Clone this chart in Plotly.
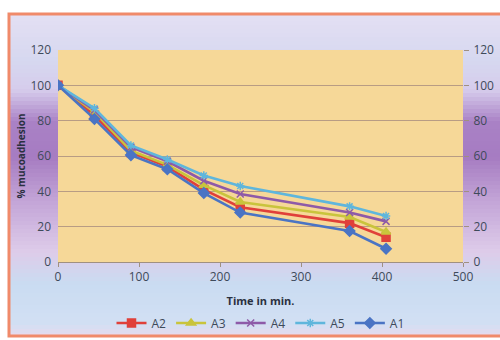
import plotly.graph_objects as go

time = [0, 45, 90, 135, 180, 225, 360, 405]
A1 = [100, 81, 60.5, 52.5, 39, 28, 17.5, 7.5]
A2 = [100, 83, 62, 54, 41, 31, 22, 14]
A3 = [100, 85, 63, 55, 43.5, 34, 25.5, 17]
A4 = [100, 86, 65, 57, 46, 38.5, 28, 23]
A5 = [100, 87, 66, 58, 49, 43, 31.5, 26]
y_ticks = [0, 20, 40, 60, 80, 100, 120]
x_ticks = [0, 100, 200, 300, 400, 500]

W, H = 500, 340
ML, MR, MT, MB = 58, 37, 50, 78
PW, PH = W - ML - MR, H - MT - MB

def xp(px):
    return (px - ML) / PW

def yp(py):
    return (H - MB - py) / PH

series = [
    ("A2", A2, "#e0403a", "square", 8),
    ("A3", A3, "#c9c43c", "triangle-up", 8),
    ("A4", A4, "#8e5aa8", "x-thin", 7),
    ("A5", A5, "#5fb6dc", "asterisk", 7),
    ("A1", A1, "#4a74c4", "diamond", 8),
]

fig = go.Figure()
for name, vals, col, sym, sz in series:
    fig.add_trace(go.Scatter(
        x=time, y=vals, name=name, mode="lines+markers",
        line=dict(color=col, width=2.6),
        marker=dict(symbol=sym, size=sz, color=col, line=dict(color=col, width=1.5)),
    ))
fig.add_trace(go.Scatter(x=[0], y=[0], yaxis="y2", showlegend=False,
                         mode="markers", marker=dict(opacity=0), hoverinfo="skip"))

stops = [(13, (228, 224, 244)), (60, (214, 216, 240)), (88, (214, 204, 236)),
         (120, (170, 130, 198)), (155, (166, 124, 194)), (200, (196, 166, 216)),
         (250, (222, 204, 234)), (282, (202, 220, 242)), (322, (210, 224, 244)),
         (337, (236, 216, 236))]

def lerp(a, b, t):
    return tuple(int(a[i] + (b[i] - a[i]) * t) for i in range(3))

shapes = []
y = 13
step = 4
while y < 337:
    for i in range(len(stops) - 1):
        if stops[i][0] <= y <= stops[i + 1][0]:
            t = (y - stops[i][0]) / (stops[i + 1][0] - stops[i][0])
            c = lerp(stops[i][1], stops[i + 1][1], t)
            break
    shapes.append(dict(type="rect", xref="paper", yref="paper", layer="below",
                       x0=xp(8), x1=xp(502), y0=yp(min(y + step, 337)), y1=yp(y),
                       fillcolor="rgb(%d,%d,%d)" % c, line=dict(width=0)))
    y += step
shapes.append(dict(type="rect", xref="paper", yref="paper", layer="below",
                   x0=0, x1=1, y0=0, y1=1, fillcolor="#f6d898", line=dict(width=0)))
shapes.append(dict(type="rect", xref="paper", yref="paper", layer="above",
                   x0=xp(9), x1=xp(503), y0=yp(336), y1=yp(14),
                   fillcolor="rgba(0,0,0,0)", line=dict(color="#f08a6a", width=3)))

font = dict(family="Open Sans", size=12, color="#3e4a5a")
fig.update_layout(
    width=W, height=H, margin=dict(l=ML, r=MR, t=MT, b=MB, autoexpand=False),
    paper_bgcolor="white", plot_bgcolor="rgba(0,0,0,0)",
    font=font, shapes=shapes, showlegend=True,
    xaxis=dict(range=[0, 500], tickvals=x_ticks, showgrid=False, zeroline=False,
               showline=True, linecolor="#a09080", ticks="outside", ticklen=4,
               tickcolor="#a09080", automargin=False,
               title=dict(text="<b>Time in min.</b>",
               font=dict(size=11, color="#2a3040"), standoff=16)),
    yaxis=dict(range=[0, 120], tickvals=y_ticks, showgrid=True, gridcolor="#b89c84",
               gridwidth=1, zeroline=False, showline=False, ticks="", ticklabelstandoff=6,
               automargin=False,
               title=dict(text="<b>% mucoadhesion</b>", font=dict(size=10, color="#2a3040"),
               standoff=2)),
    yaxis2=dict(range=[0, 120], tickvals=y_ticks, overlaying="y", side="right",
                showgrid=False, zeroline=False, showline=False, ticks="outside",
                ticklen=5, tickcolor="#a09080", ticklabelstandoff=2, automargin=False),
    legend=dict(orientation="h", x=0.5, xanchor="center", yref="container",
                y=(H - 323) / H, yanchor="middle",
                font=dict(size=12, color="#3e4a5a"), bgcolor="rgba(0,0,0,0)",
                itemwidth=30, tracegroupgap=0),
)
fig.write_html("out.html")
